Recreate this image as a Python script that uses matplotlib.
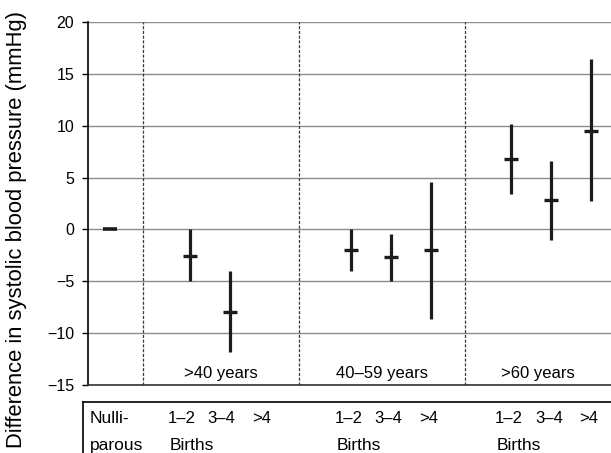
import matplotlib
matplotlib.use('Agg')
import matplotlib.pyplot as plt
import matplotlib.transforms as mtransforms
import numpy as np

plt.rcParams['font.family'] = ['Liberation Sans', 'DejaVu Sans']


# ----------------------------------------------------------------------------------------
#                             DATA AREA

# one entry per column, None where there is no estimate
group_names  = ['>40 years', '40\u201359 years', '>60 years']
birth_labels = ['1\u20132', '3\u20134', '>4']

nulli_mean   = 0.0

# >40 years
g40_mean  = [-2.55, -8.0, None]
g40_low   = [-5.0, -11.85, None]
g40_high  = [0.0, -4.0, None]

# 40-59 years
g4059_mean = [-1.95, -2.7, -2.0]
g4059_low  = [-4.0, -5.0, -8.65]
g4059_high = [0.0, -0.4, 4.6]

# >60 years
g60_mean  = [6.75, 2.85, 9.5]
g60_low   = [3.4, -1.05, 2.7]
g60_high  = [10.2, 6.6, 16.4]

y_ticks = [-15, -10, -5, 0, 5, 10, 15, 20]
y_label = 'Difference in systolic blood pressure (mmHg)'


# ----------------------------------------------------------------------------------------
#                             PLOTTING AREA

W, H = 611, 453
BAR_COLOR = '#1c1c1c'

# x slots (layout only)
nulli_pos   = 0.5
group_pos   = [[2.5, 3.5, 4.5], [6.5, 7.5, 8.5], [10.5, 11.5, 12.5]]
dividers    = [1.32, 5.21, 9.36]
label_shift = [-0.22, -0.05, -0.05]


def draw_group(ax, pos, mean, low, high):
    for x, m, lo, hi in zip(pos, mean, low, high):
        if m is None:
            continue
        ax.vlines(x, lo, hi, color=BAR_COLOR, lw=2.3, zorder=4)
        ax.plot([x], [m], ls='none', marker='_', ms=9.5, mew=2.4, color=BAR_COLOR, zorder=5)


def main():
    fig = plt.figure(figsize=(W / 100, H / 100), dpi=100)
    ax = fig.add_axes([88 / W, 1 - 385 / H, 523 / W, 363 / H])

    ax.set_xlim(-0.05, 13.0)
    ax.set_ylim(-15, 20)
    ax.set_yticks(y_ticks)
    ax.set_xticks([])
    ax.tick_params(axis='y', direction='out', length=4, width=1, pad=6,
                   labelsize=11.5, colors='black')
    ax.yaxis.grid(True, color='#8c8c8c', lw=1.0, zorder=1)
    ax.set_axisbelow(True)
    for side in ['top', 'right']:
        ax.spines[side].set_visible(False)
    ax.spines['left'].set_linewidth(1.2)
    ax.spines['bottom'].set_linewidth(1.2)
    ax.spines['bottom'].set_color('#333333')

    # dashed age-group dividers
    for d in dividers:
        ax.axvline(d, color='#3a3a3a', lw=0.9, ls=(0, (2.5, 1.3)), zorder=2)

    # nulliparous reference
    ax.plot([nulli_pos], [nulli_mean], ls='none', marker='_', ms=9.5, mew=2.6,
            color=BAR_COLOR, zorder=5)

    draw_group(ax, group_pos[0], g40_mean, g40_low, g40_high)
    draw_group(ax, group_pos[1], g4059_mean, g4059_low, g4059_high)
    draw_group(ax, group_pos[2], g60_mean, g60_low, g60_high)

    # age group names inside the plot
    bounds = dividers + [13.0]
    for i, name in enumerate(group_names):
        xc = (bounds[i] + bounds[i + 1]) / 2
        ax.text(xc, -14.35, name, ha='center', va='baseline', fontsize=12)

    # y label, centred on the zero line
    fig.text(17 / W, 1 - 229.5 / H, y_label, rotation=90, ha='center', va='center',
             fontsize=15.8)

    # label box under the axis
    box = fig.add_axes([83 / W, 0, 1 - 83 / W, 51 / H])
    box.set_xticks([])
    box.set_yticks([])
    box.patch.set_alpha(0)
    for side in ['right', 'bottom']:
        box.spines[side].set_visible(False)
    box.spines['left'].set_linewidth(1.2)
    box.spines['top'].set_linewidth(1.2)

    trans = mtransforms.blended_transform_factory(ax.transData, box.transAxes)
    row1, row2 = 0.59, 0.06
    ax.text(0.0, row1, 'Nulli-', transform=trans, ha='left', va='baseline', fontsize=12.5)
    ax.text(0.0, row2, 'parous', transform=trans, ha='left', va='baseline', fontsize=12.5)
    for g, pos in enumerate(group_pos):
        for x, lab in zip(pos, birth_labels):
            ax.text(x + label_shift[g], row1, lab, transform=trans, ha='center',
                    va='baseline', fontsize=12)
        ax.text(pos[0] + label_shift[g] - 0.3, row2, 'Births', transform=trans,
                ha='left', va='baseline', fontsize=12.5)

    fig.savefig('out.png', dpi=100)


if __name__ == "__main__":
    main()
